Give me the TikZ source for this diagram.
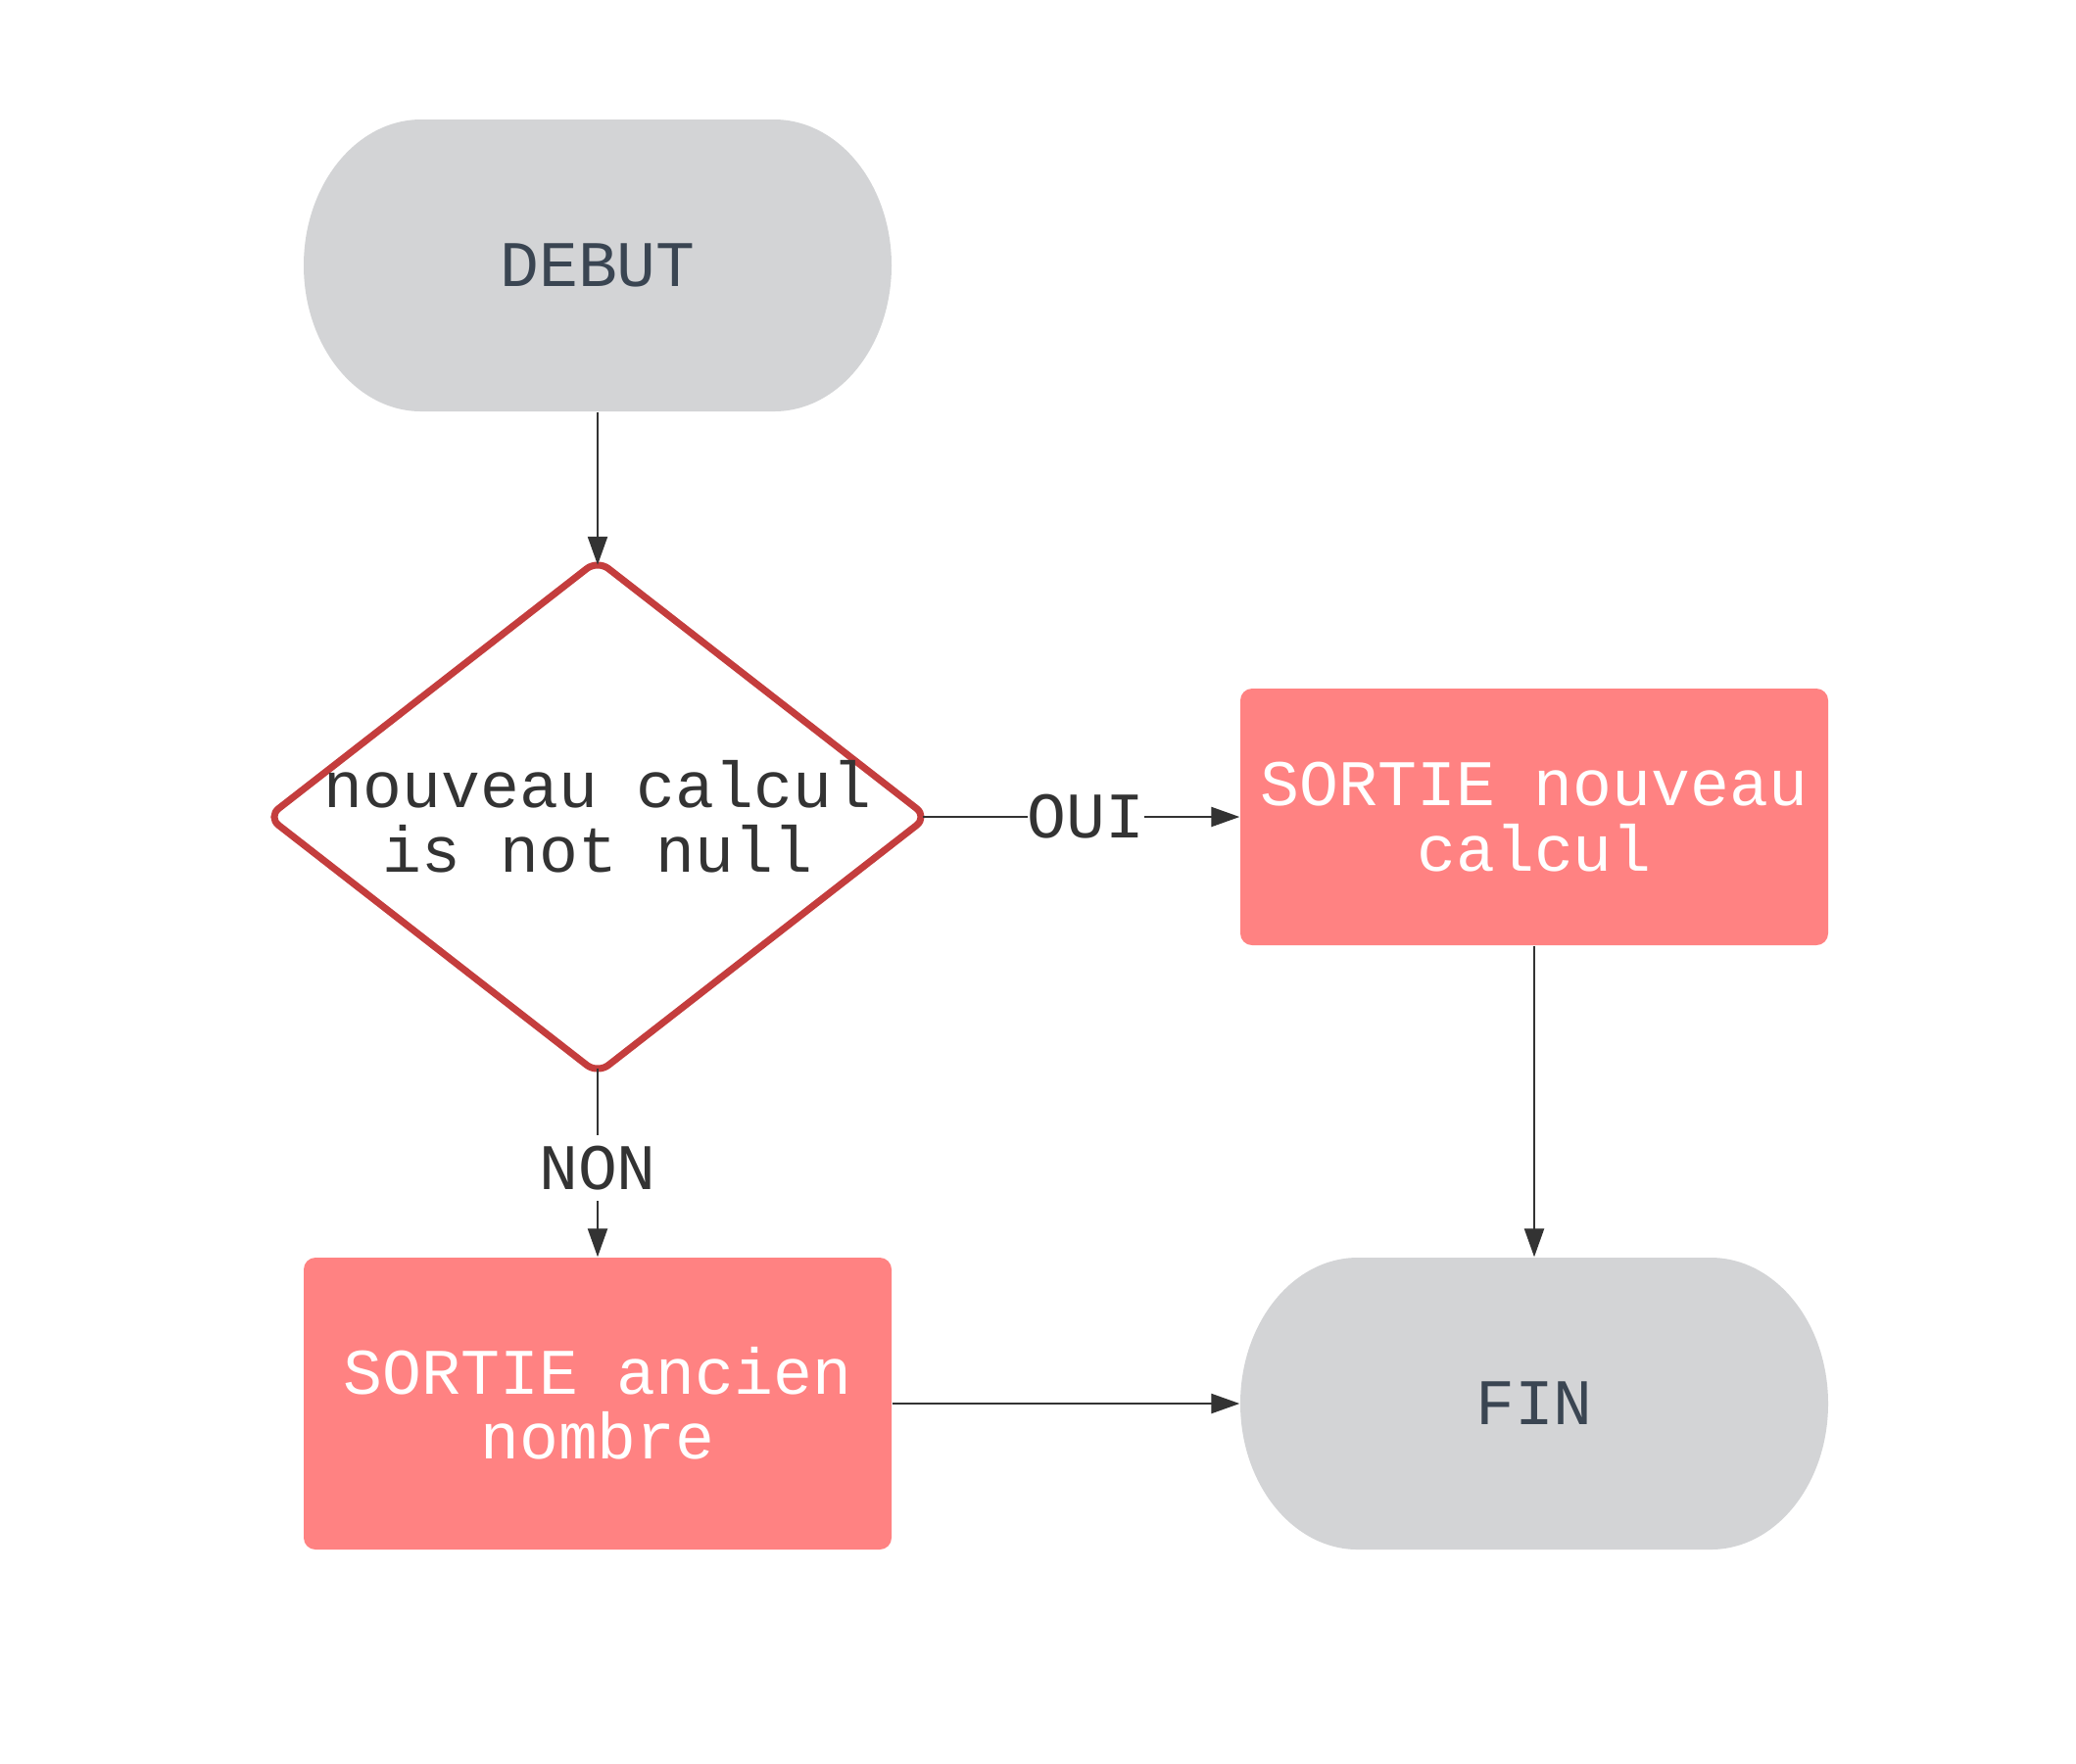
\documentclass[tikz,border=0pt]{standalone}
\usepackage{fontspec}
\setmainfont{Liberation Mono}
\usetikzlibrary{arrows.meta,shapes.geometric,calc}
\definecolor{termfill}{HTML}{D3D4D6}
\definecolor{termtext}{HTML}{3A4552}
\definecolor{outfill}{HTML}{FF8282}
\definecolor{decline}{HTML}{C43D3D}
\definecolor{ink}{HTML}{333333}

\begin{document}
\begin{tikzpicture}[
      font=\fontsize{18.9}{18.9}\selectfont, >={Triangle[length=2.9mm,width=2mm]},
      term/.style={minimum width=60mm, minimum height=29.8mm, inner sep=0, text=termtext,
                   path picture={\fill[termfill]
                     ($(path picture bounding box.north west)+(1.2,0)$) --
                     ($(path picture bounding box.north east)+(-1.2,0)$)
                     arc[start angle=90, end angle=-90, x radius=1.2, y radius=1.49] --
                     ($(path picture bounding box.south west)+(1.2,0)$)
                     arc[start angle=270, end angle=90, x radius=1.2, y radius=1.49] -- cycle;}},
      outbox/.style={fill=outfill, rounded corners=1.2mm, minimum width=60mm,
                  inner sep=0, text=white, align=center},
      dec/.style={diamond, draw=decline, line width=2pt, fill=white, rounded corners=1.4mm,
                  minimum width=67.6mm, minimum height=52.7mm, inner sep=0},
      lab/.style={fill=white, inner xsep=0pt, inner ysep=1.1mm, text=ink},
      link/.style={->, draw=ink, line width=0.65pt}
    ]
    \path[use as bounding box, fill=white] (0,0) rectangle (21.19,-18);
    \node[term] (deb) at (6.10,-2.71)  {DEBUT};
    \node[dec]  (test) at (6.10,-8.34) [label={[text=ink, align=center]center:{nouveau calcul\\is not null}}] {};
    \node[outbox, minimum height=26.2mm] (nouv) at (15.66,-8.34)  {SORTIE nouveau\\calcul};
    \node[outbox, minimum height=29.8mm] (anc)  at (6.10,-14.33)  {SORTIE ancien\\nombre};
    \node[term] (fin) at (15.66,-14.33) {FIN};
    \draw[link, shorten >=-2.8pt] (deb)  -- (test);
    \draw[link, shorten <=-2.8pt] (test) -- node[lab]{OUI} (nouv);
    \draw[link, shorten <=-2.8pt] (test) -- node[lab]{NON} (anc);
    \draw[link] (nouv) -- (fin);
    \draw[link] (anc)  -- (fin);
  \end{tikzpicture}
\end{document}
